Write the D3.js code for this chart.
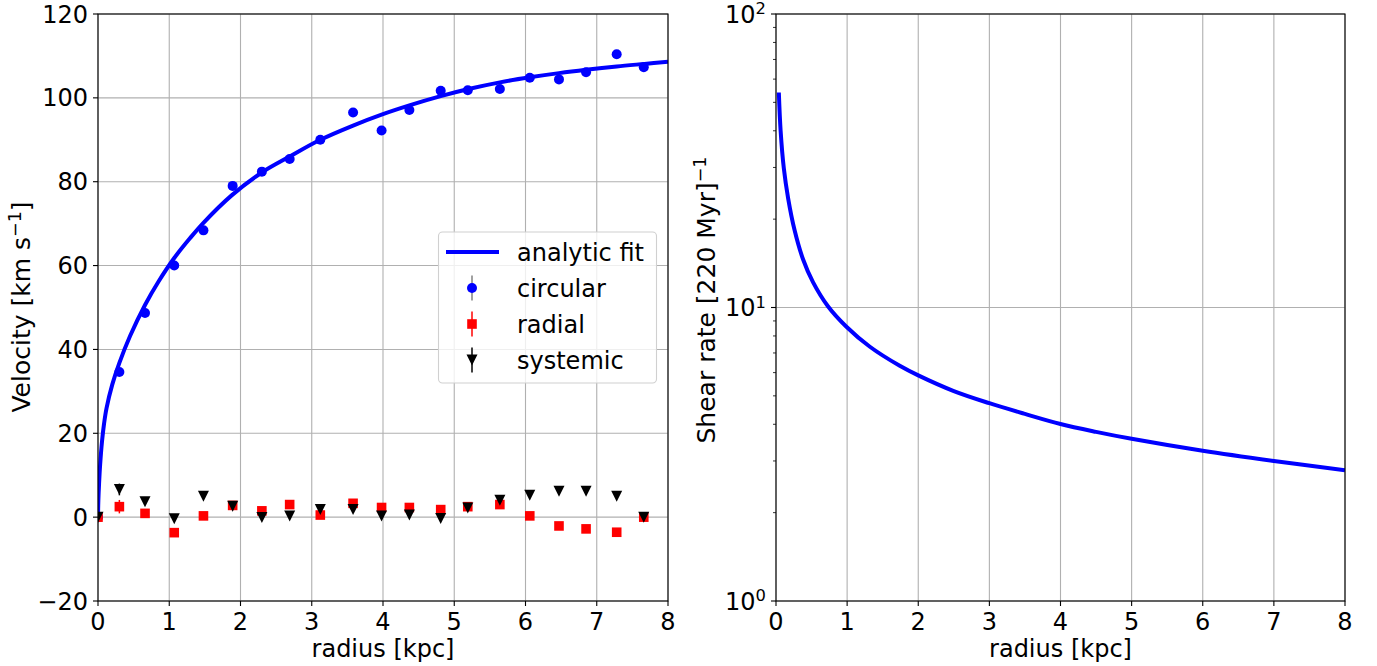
<!DOCTYPE html>
<html><head><meta charset="utf-8">
<script src="https://cdn.jsdelivr.net/npm/d3@7"></script>
<style>
body{margin:0;background:#fff;}
text{font-family:"DejaVu Sans",sans-serif;fill:#000;}
</style></head>
<body><svg id="c" width="1377" height="666"></svg>
<script>
// ---- data ----
const radii    = [0, 0.3, 0.66, 1.07, 1.48, 1.89, 2.3, 2.69, 3.12, 3.58, 3.98, 4.37, 4.81, 5.19, 5.64, 6.06, 6.47, 6.85, 7.28, 7.66];
const circular = [0, 34.6, 48.7, 60.0, 68.4, 79.0, 82.4, 85.4, 90.0, 96.5, 92.2, 97.1, 101.7, 101.8, 102.1, 104.8, 104.4, 106.1, 110.4, 107.3];
const radial   = [0, 2.5, 0.9, -3.7, 0.3, 2.8, 1.5, 3.0, 0.5, 3.3, 2.3, 2.3, 1.8, 2.5, 3.0, 0.3, -2.1, -2.8, -3.6, 0];
const systemic = [0, 6.6, 3.7, -0.4, 5.0, 2.6, -0.1, 0.3, 1.8, 1.8, 0.3, 0.5, -0.3, 2.2, 4.0, 5.2, 6.2, 6.2, 5.0, 0];
const radialErr   = [0, 1.6, 0.5, 0.5, 0.5, 0.5, 0.5, 0.5, 0.5, 0.5, 0.5, 0.5, 0.5, 0.5, 0.5, 0.5, 0.5, 0.5, 0.5, 0.5];
const systemicErr = [0, 1.4, 0.5, 0.5, 0.5, 0.5, 0.5, 0.5, 0.5, 0.5, 0.5, 0.5, 0.5, 0.5, 0.5, 0.5, 0.5, 0.5, 0.5, 0.5];

const fitR = [0, 0.005, 0.015, 0.03, 0.056, 0.085, 0.12, 0.2, 0.3, 0.45, 0.66, 0.85, 1.07, 1.29, 1.48, 1.88, 2.3, 2.69, 3.12, 3.58, 3.98, 4.37, 4.81, 5.2, 5.64, 6.06, 6.47, 6.85, 7.28, 7.67, 8.0];
const fitV = [0, 4, 8, 12.5, 18.0, 22.3, 26.0, 31.6, 36.8, 43.2, 50.6, 56.2, 61.8, 66.5, 70.2, 76.8, 82.2, 86.0, 90.0, 93.4, 96.0, 98.2, 100.4, 102.1, 103.7, 104.9, 105.9, 106.7, 107.5, 108.1, 108.6];

const shearR = [0.04, 0.065, 0.11, 0.17, 0.26, 0.38, 0.52, 0.73, 0.99, 1.32, 1.74, 2.0, 2.5, 3.0, 3.5, 4.0, 4.5, 5.0, 6.0, 7.0, 8.0];
const shear  = [54.0, 40.0, 29.8, 23.6, 18.4, 14.6, 12.2, 10.1, 8.6, 7.35, 6.33, 5.87, 5.19, 4.72, 4.34, 4.01, 3.77, 3.57, 3.25, 3.0, 2.79];

const xTicks = [0,1,2,3,4,5,6,7,8];
const yTicksL = [-20,0,20,40,60,80,100,120];
const yTicksR = [1,10,100];
const legendLabels = ["analytic fit","circular","radial","systemic"];

// ---- drawing ----
const svg = d3.select("#c");
const FS = 24;
const FSL = 25;
const grid = "#b0b0b0";

const xL = d3.scaleLinear([0,8],[98,668]);
const yL = d3.scaleLinear([-20,120],[601,14]);
const xR = d3.scaleLinear([0,8],[776,1345]);
const yR = d3.scaleLog([1,100],[601,14]);

svg.append("defs").html(`
<clipPath id="clipL"><rect x="98" y="14" width="570" height="587"/></clipPath>
<clipPath id="clipR"><rect x="776" y="14" width="569" height="587"/></clipPath>`);

function frame(x, y, yTicks){
  const g = svg.append("g");
  xTicks.forEach(t=>g.append("line").attr("x1",x(t)).attr("x2",x(t)).attr("y1",y.range()[1]).attr("y2",y.range()[0]).attr("stroke",grid).attr("stroke-width",1.1));
  yTicks.forEach(t=>g.append("line").attr("x1",x.range()[0]).attr("x2",x.range()[1]).attr("y1",y(t)).attr("y2",y(t)).attr("stroke",grid).attr("stroke-width",1.1));
  return g;
}
function axes(x, y, yTicks, minor, ylabFmt){
  const g = svg.append("g");
  const [x0,x1]=x.range(), [y0,y1]=y.range();
  g.append("rect").attr("x",x0).attr("y",y1).attr("width",x1-x0).attr("height",y0-y1).attr("fill","none").attr("stroke","#000").attr("stroke-width",1.1);
  xTicks.forEach(t=>{
    g.append("line").attr("x1",x(t)).attr("x2",x(t)).attr("y1",y0).attr("y2",y0+5).attr("stroke","#000").attr("stroke-width",1.1);
    g.append("text").attr("x",x(t)).attr("y",y0+29).attr("text-anchor","middle").attr("font-size",FS).text(t);
  });
  yTicks.forEach(t=>{
    g.append("line").attr("x1",x0-5).attr("x2",x0).attr("y1",y(t)).attr("y2",y(t)).attr("stroke","#000").attr("stroke-width",1.1);
    ylabFmt(g.append("text").attr("x",x0-10).attr("y",y(t)+8.5).attr("text-anchor","end").attr("font-size",FS), t);
  });
  if(minor){
    minor.forEach(t=>g.append("line").attr("x1",x0-3).attr("x2",x0).attr("y1",y(t)).attr("y2",y(t)).attr("stroke","#000").attr("stroke-width",0.8));
  }
  g.append("text").attr("x",(x0+x1)/2).attr("y",657).attr("text-anchor","middle").attr("font-size",FS).text("radius [kpc]");
  return g;
}

// ---- left panel ----
frame(xL, yL, yTicksL);
const gL = svg.append("g").attr("clip-path","url(#clipL)");
const lineL = d3.line().x((d,i)=>xL(fitR[i])).y(d=>yL(d)).curve(d3.curveCatmullRom.alpha(0.5));
gL.append("path").attr("d",lineL(fitV)).attr("fill","none").attr("stroke","#0000ff").attr("stroke-width",4);

radii.forEach((r,i)=>{
  gL.append("circle").attr("cx",xL(r)).attr("cy",yL(circular[i])).attr("r",5).attr("fill","#0000ff");
});
radii.forEach((r,i)=>{
  if(radialErr[i]>0) gL.append("line").attr("x1",xL(r)).attr("x2",xL(r)).attr("y1",yL(radial[i]-radialErr[i])).attr("y2",yL(radial[i]+radialErr[i])).attr("stroke","#ff0000").attr("stroke-width",1.5);
  gL.append("rect").attr("x",xL(r)-4.8).attr("y",yL(radial[i])-4.8).attr("width",9.6).attr("height",9.6).attr("fill","#ff0000");
});
const tri = (cx,cy,s)=>`M${cx-s},${cy-s}L${cx+s},${cy-s}L${cx},${cy+s}Z`;
radii.forEach((r,i)=>{
  if(systemicErr[i]>0) gL.append("line").attr("x1",xL(r)).attr("x2",xL(r)).attr("y1",yL(systemic[i]-systemicErr[i])).attr("y2",yL(systemic[i]+systemicErr[i])).attr("stroke","#000").attr("stroke-width",1.5);
  gL.append("path").attr("d",tri(xL(r),yL(systemic[i]),5.5)).attr("fill","#000");
});
axes(xL, yL, yTicksL, null, (t,v)=>t.text(v<0?"\u2212"+Math.abs(v):v));

const ylL = svg.append("text").attr("transform","translate(30,307) rotate(-90)").attr("text-anchor","middle").attr("font-size",FSL);
ylL.append("tspan").text("Velocity [km s");
ylL.append("tspan").attr("dy",-9).attr("font-size",FSL*0.7).text("\u22121");
ylL.append("tspan").attr("dy",9).text("]");

// legend
const lg = svg.append("g");
lg.append("rect").attr("x",438.5).attr("y",232).attr("width",218).attr("height",151).attr("rx",4).attr("fill","#fff").attr("fill-opacity",0.8).attr("stroke","#d0d0d0").attr("stroke-width",1.1);
const rowsY = [252,288,324,360];
lg.append("line").attr("x1",446).attr("x2",499).attr("y1",rowsY[0]).attr("y2",rowsY[0]).attr("stroke","#0000ff").attr("stroke-width",4);
lg.append("line").attr("x1",472).attr("x2",472).attr("y1",rowsY[1]-12.5).attr("y2",rowsY[1]+12.5).attr("stroke","#808080").attr("stroke-width",1.5);
lg.append("circle").attr("cx",472).attr("cy",rowsY[1]).attr("r",5).attr("fill","#0000ff");
lg.append("line").attr("x1",472).attr("x2",472).attr("y1",rowsY[2]-12.5).attr("y2",rowsY[2]+12.5).attr("stroke","#ff0000").attr("stroke-width",1.5);
lg.append("rect").attr("x",472-4.8).attr("y",rowsY[2]-4.8).attr("width",9.6).attr("height",9.6).attr("fill","#ff0000");
lg.append("line").attr("x1",472).attr("x2",472).attr("y1",rowsY[3]-12.5).attr("y2",rowsY[3]+12.5).attr("stroke","#000").attr("stroke-width",1.5);
lg.append("path").attr("d",tri(472,rowsY[3],5.5)).attr("fill","#000");
legendLabels.forEach((l,i)=>lg.append("text").attr("x",517).attr("y",rowsY[i]+8.5).attr("font-size",FS).text(l));

// ---- right panel ----
frame(xR, yR, yTicksR);
const gR = svg.append("g").attr("clip-path","url(#clipR)");
const lineR = d3.line().x((d,i)=>xR(shearR[i])).y(d=>yR(d)).curve(d3.curveCatmullRom.alpha(0.5));
gR.append("path").attr("d",lineR(shear)).attr("fill","none").attr("stroke","#0000ff").attr("stroke-width",4);
const minorR = [];
[1,10].forEach(b=>{for(let k=2;k<=9;k++) minorR.push(b*k);});
axes(xR, yR, yTicksR, minorR, (t,v)=>{
  t.append("tspan").text("10");
  t.append("tspan").attr("dy",-8.5).attr("font-size",FS*0.68).text(Math.round(Math.log10(v)));
});
const ylR = svg.append("text").attr("transform","translate(715,300) rotate(-90)").attr("text-anchor","middle").attr("font-size",FSL);
ylR.append("tspan").text("Shear rate [220 Myr]");
ylR.append("tspan").attr("dy",-9).attr("font-size",FSL*0.7).text("\u22121");
</script></body></html>
